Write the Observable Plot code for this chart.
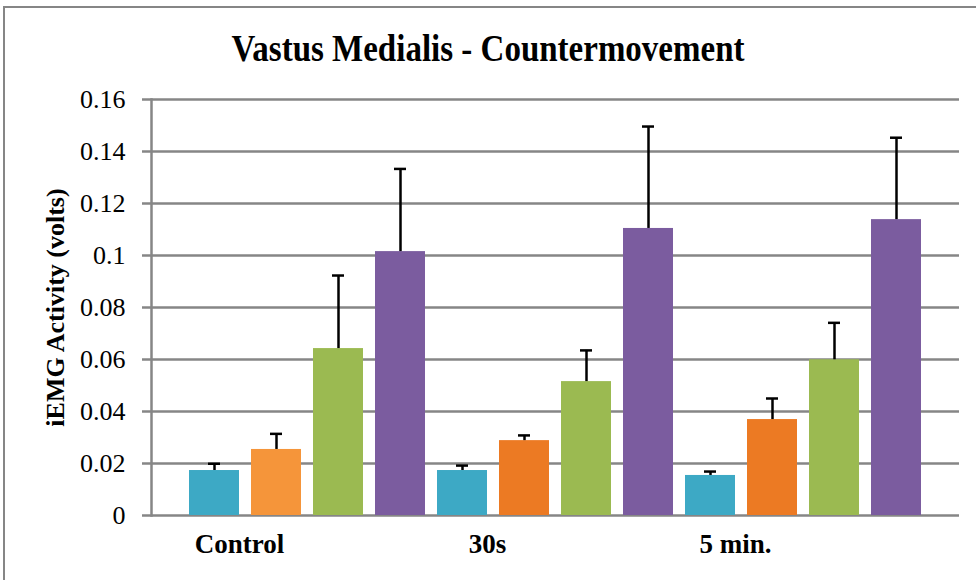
<!DOCTYPE html>
<html><head><meta charset="utf-8">
<script src="https://cdn.jsdelivr.net/npm/d3@7"></script>
<script src="https://cdn.jsdelivr.net/npm/@observablehq/plot@0.6"></script>
<style>
body{margin:0;background:#fff;}
#wrap{position:relative;width:976px;height:580px;overflow:hidden;background:#fff;}
#frame{position:absolute;left:3px;top:6px;width:1000px;height:600px;border-left:2px solid #868686;border-top:2px solid #868686;}
#title{position:absolute;left:0;width:976px;top:29px;text-align:center;font-weight:bold;font-size:33px;font-family:"Liberation Serif","DejaVu Serif",serif;color:#000;z-index:2;transform:scaleY(1.12);transform-origin:50% 0;}
#chart{position:absolute;left:0;top:0;}
#chart svg, #chart svg text{font-family:"Liberation Serif","DejaVu Serif",serif !important;}
</style></head><body>
<div id="wrap"><div id="frame"></div><div id="title">Vastus Medialis - Countermovement</div><div id="chart"></div></div>
<script>
const categories = ["Control", "30s", "5 min."];
const seriesNames = ["S1", "S2", "S3", "S4"];
const s1Values = [0.0173, 0.0173, 0.0154];
const s2Values = [0.0254, 0.0288, 0.0369];
const s3Values = [0.0642, 0.0515, 0.0599];
const s4Values = [0.1015, 0.1104, 0.1138];
const s1Err = [0.0026, 0.0019, 0.0015];
const s2Err = [0.0060, 0.0020, 0.0081];
const s3Err = [0.0281, 0.0120, 0.0142];
const s4Err = [0.0318, 0.0392, 0.0315];
const yTicks = [0, 0.02, 0.04, 0.06, 0.08, 0.1, 0.12, 0.14, 0.16];
const seriesColors = ["#3DA9C5", "#EC7A23", "#9BBA51", "#7B5C9F"];
const controlOrange = "#F5953A";

const values = [s1Values, s2Values, s3Values, s4Values];
const errs = [s1Err, s2Err, s3Err, s4Err];
const rows = [];
categories.forEach((c, i) => {
  seriesNames.forEach((s, j) => {
    rows.push({key: c + "|" + s, cat: c, s: j, v: values[j][i], e: errs[j][i]});
  });
});
const keys = rows.map(d => d.key);
const fillOf = d => (d.cat === "Control" && d.s === 1) ? controlOrange : seriesColors[d.s];

const chart = Plot.plot({
  width: 976,
  height: 580,
  marginTop: 99,
  marginBottom: 65,
  marginLeft: 151,
  marginRight: 17,
  style: {fontFamily: "Liberation Serif, DejaVu Serif, serif", fontSize: "26px", background: "transparent", color: "black"},
  x: {domain: keys, range: [175.6, 934.4], padding: 0.2, axis: null},
  y: {domain: [0, 0.16], axis: null},
  marks: [
    Plot.ruleY(yTicks, {stroke: "#868686", strokeWidth: 2.5}),
    Plot.axisY({ticks: yTicks, tickSize: 9, tickPadding: 17, tickFormat: d => String(+d.toFixed(2)), stroke: "#868686", strokeWidth: 2.5, fill: "black", label: null, fontSize: 26}),
    Plot.frame({anchor: "left", stroke: "#868686", strokeWidth: 2.5}),
    Plot.barY(rows, {x: "key", y: "v", fill: fillOf, style: "filter: drop-shadow(3px 2px 3px rgba(0,0,0,0.28))"}),
    Plot.ruleX(rows, {x: "key", y1: "v", y2: d => d.v + d.e, stroke: "black", strokeWidth: 2.5}),
    Plot.tickY(rows, {x: "key", y: d => d.v + d.e, stroke: "black", strokeWidth: 2.5, insetLeft: 19, insetRight: 19}),
    Plot.text(categories, {x: d => d + "|S1", y: () => 0, text: d => d, dx: 25, dy: 29, fontWeight: "bold", fontSize: 27, fill: "black"}),
    Plot.text(["iEMG Activity (volts)"], {frameAnchor: "left", textAnchor: "middle", dx: -96, rotate: -90, text: d => d, fontWeight: "bold", fontSize: 26, fill: "black"})
  ]
});
document.getElementById("chart").appendChild(chart);
</script>
</body></html>
